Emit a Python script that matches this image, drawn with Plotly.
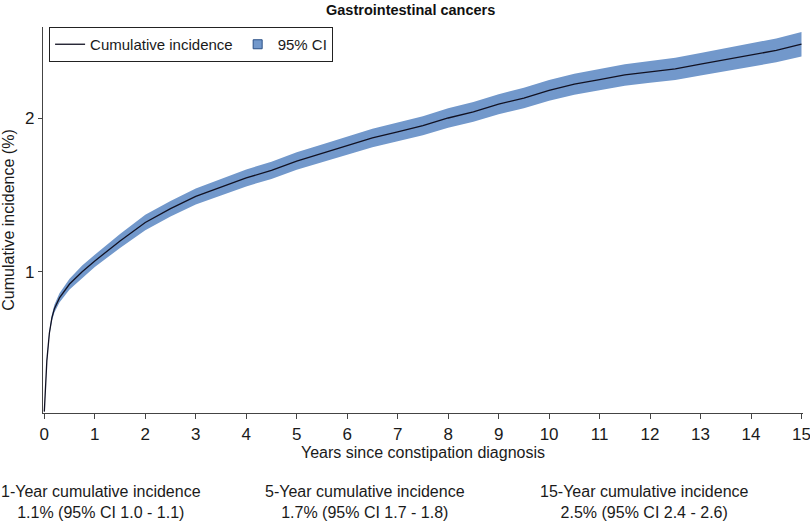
import plotly.graph_objects as go

# values
years = [0, 0.05, 0.1, 0.15, 0.2, 0.3, 0.5, 0.75, 1.0, 1.5, 2.0, 2.5, 3.0, 3.5, 4.0,
         4.5, 5.0, 5.5, 6.0, 6.5, 7.0, 7.5, 8.0, 8.5, 9.0, 9.5, 10.0, 10.5, 11.0,
         11.5, 12.0, 12.5, 13.0, 13.5, 14.0, 14.5, 15.0]
cum_inc = [0.09, 0.42, 0.60, 0.70, 0.76, 0.83, 0.92, 1.00, 1.07, 1.20, 1.32, 1.41,
           1.49, 1.55, 1.61, 1.66, 1.72, 1.77, 1.82, 1.87, 1.91, 1.95, 2.00, 2.04,
           2.09, 2.13, 2.18, 2.22, 2.25, 2.28, 2.30, 2.32, 2.35, 2.38, 2.41, 2.44, 2.48]
ci_lower = [0.085, 0.41, 0.585, 0.68, 0.735, 0.80, 0.885, 0.96, 1.03, 1.155, 1.27,
            1.36, 1.438, 1.496, 1.555, 1.604, 1.663, 1.712, 1.761, 1.81, 1.849,
            1.888, 1.937, 1.976, 2.025, 2.064, 2.113, 2.152, 2.181, 2.21, 2.229,
            2.248, 2.277, 2.306, 2.334, 2.362, 2.40]
ci_upper = [0.095, 0.43, 0.615, 0.72, 0.785, 0.86, 0.955, 1.04, 1.11, 1.245, 1.37,
            1.46, 1.542, 1.604, 1.665, 1.716, 1.777, 1.828, 1.879, 1.93, 1.971,
            2.012, 2.063, 2.104, 2.155, 2.196, 2.247, 2.288, 2.319, 2.35, 2.371,
            2.392, 2.423, 2.454, 2.486, 2.518, 2.56]

x_ticks = list(range(0, 16))
y_ticks = [1, 2]

summary_labels = ["1-Year cumulative incidence", "5-Year cumulative incidence",
                  "15-Year cumulative incidence"]
summary_values = ["1.1% (95% CI 1.0 - 1.1)", "1.7% (95% CI 1.7 - 1.8)",
                  "2.5% (95% CI 2.4 - 2.6)"]
summary_pos = [0.076, 0.424, 0.792]

FONT = "Liberation Sans, Arial, sans-serif"
band_col = "#7298cb"

fig = go.Figure()
fig.add_trace(go.Scatter(
    x=years, y=ci_lower, mode='lines', line=dict(width=0, color=band_col),
    showlegend=False, hoverinfo='skip'
))
fig.add_trace(go.Scatter(
    x=years, y=ci_upper, mode='lines', line=dict(width=0, color=band_col),
    fill='tonexty', fillcolor=band_col, showlegend=False, hoverinfo='skip'
))
fig.add_trace(go.Scatter(
    x=years, y=cum_inc, mode='lines', line=dict(width=1.3, color='#111122'),
    name='Cumulative incidence', legendrank=1
))
# legend entry for the band, drawn as a small square like the original
fig.add_trace(go.Scatter(
    x=[None], y=[None], mode='markers', name='95% CI', legendrank=2,
    marker=dict(symbol='square', size=9, color=band_col,
                line=dict(width=1, color='#2a4f86'))
))

for lab, val, px in zip(summary_labels, summary_values, summary_pos):
    fig.add_annotation(
        x=px, y=-0.231, xref='paper', yref='paper', xanchor='center', yanchor='middle',
        text=lab + "<br>" + val, showarrow=False,
        font=dict(family=FONT, size=16, color='#1a1a1a')
    )

fig.update_layout(
    width=810, height=521,
    margin=dict(l=43, r=7, t=27, b=108, autoexpand=False),
    paper_bgcolor='white', plot_bgcolor='white',
    font=dict(family=FONT, size=16, color='#1a1a1a'),
    title=dict(text="<b>Gastrointestinal cancers</b>", x=0.507, xanchor='center',
               y=0.99, yanchor='top', font=dict(size=14.5, color='#111')),
    legend=dict(x=0.008, y=1.0, xanchor='left', yanchor='top', orientation='h',
                bordercolor='#222', borderwidth=1, bgcolor='white',
                font=dict(size=15), itemwidth=30, traceorder='normal',
                tracegroupgap=0),
    xaxis=dict(range=[-0.026, 15.03], tickvals=x_ticks, showgrid=False, zeroline=False,
               showline=True, linecolor='#444', linewidth=1.3, ticks='outside',
               ticklen=5, tickcolor='#444', automargin=False,
               ticklabeloverflow='allow', tickfont=dict(size=17),
               title=dict(text="Years since constipation diagnosis", standoff=4,
                          font=dict(size=16))),
    yaxis=dict(range=[0.081, 2.592], tickvals=y_ticks, showgrid=False, zeroline=False,
               showline=True, linecolor='#444', linewidth=1.3, ticks='outside',
               ticklen=4, tickcolor='#444', automargin=False, tickfont=dict(size=17),
               title=dict(text="Cumulative incidence (%)", standoff=6,
                          font=dict(size=16))),
)

# drop the browser's default page margin so the figure fills the window
fig.write_html("out.html", config={'displayModeBar': False},
               post_script="document.body.style.margin='0';")
